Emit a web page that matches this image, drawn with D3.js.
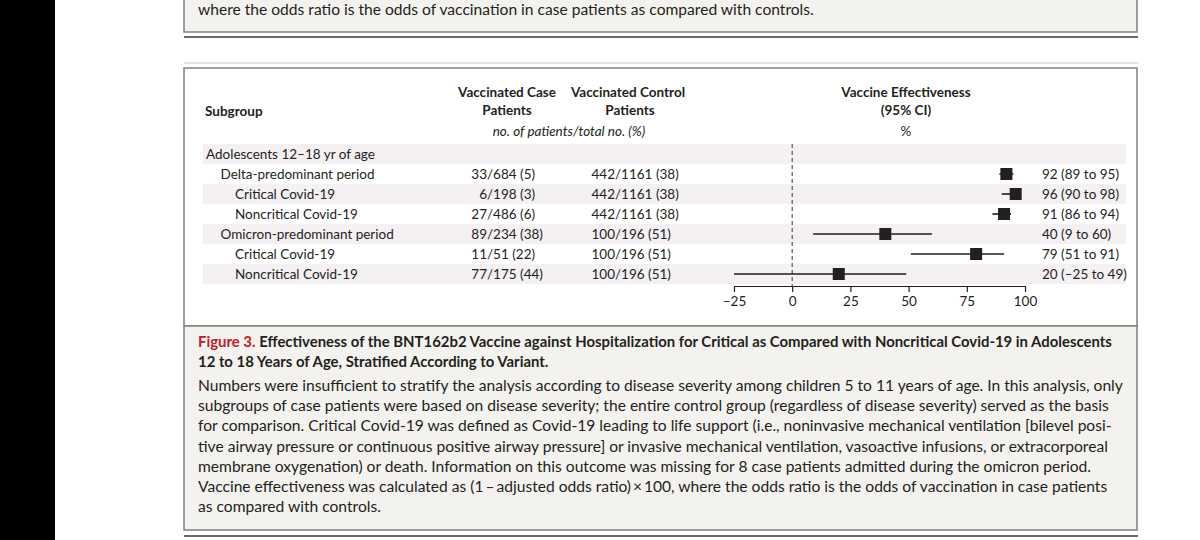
<!DOCTYPE html>
<html>
<head>
<meta charset="utf-8">
<script src="https://cdn.jsdelivr.net/npm/d3@7"></script>
<style>
  body { margin: 0; background: #fff; }
  svg { display: block; font-family: Lato, "Open Sans", sans-serif; }
</style>
</head>
<body>
<div class="canvas"></div>
<script>
// table data
const subgroups = [
  'Adolescents 12–18 yr of age',
  'Delta-predominant period',
  'Critical Covid-19',
  'Noncritical Covid-19',
  'Omicron-predominant period',
  'Critical Covid-19',
  'Noncritical Covid-19'
];
const levels = [0, 1, 2, 2, 1, 2, 2];
const caseVacc = [null, 33, 6, 27, 89, 11, 77];
const caseTotal = [null, 684, 198, 486, 234, 51, 175];
const casePct = [null, 5, 3, 6, 38, 22, 44];
const ctrlVacc = [null, 442, 442, 442, 100, 100, 100];
const ctrlTotal = [null, 1161, 1161, 1161, 196, 196, 196];
const ctrlPct = [null, 38, 38, 38, 51, 51, 51];
const ve = [null, 92, 96, 91, 40, 79, 20];
const veLow = [null, 89, 90, 86, 9, 51, -25];
const veHigh = [null, 95, 98, 94, 60, 91, 49];
const ticks = [-25, 0, 25, 50, 75, 100];

const topText = 'where the odds ratio is the odds of vaccination in case patients as compared with controls.';
const figLabel = 'Figure 3.';
const titleLines = [
  ' Effectiveness of the BNT162b2 Vaccine against Hospitalization for Critical as Compared with Noncritical Covid-19 in Adolescents',
  '12 to 18 Years of Age, Stratified According to Variant.'
];
const bodyLines = [
  'Numbers were insufficient to stratify the analysis according to disease severity among children 5 to 11 years of age. In this analysis, only',
  'subgroups of case patients were based on disease severity; the entire control group (regardless of disease severity) served as the basis',
  'for comparison. Critical Covid-19 was defined as Covid-19 leading to life support (i.e., noninvasive mechanical ventilation [bilevel posi-',
  'tive airway pressure or continuous positive airway pressure] or invasive mechanical ventilation, vasoactive infusions, or extracorporeal',
  'membrane oxygenation) or death. Information on this outcome was missing for 8 case patients admitted during the omicron period.',
  'Vaccine effectiveness was calculated as (1\u2009–\u2009adjusted odds ratio)\u2009×\u2009100, where the odds ratio is the odds of vaccination in case patients',
  'as compared with controls.'
];

const dims = { width: 1200, height: 540 };
const ink = '#231f20';
const boxFill = '#f4f2ee';
const boxStroke = '#808080';
const neg = v => (v < 0 ? '–' + Math.abs(v) : String(v));

const svg = d3
  .select('.canvas')
  .append('svg')
  .attr('width', dims.width)
  .attr('height', dims.height);

// black band at the left
svg.append('rect').attr('x', 0).attr('y', 0).attr('width', 55).attr('height', dims.height).attr('fill', '#000');

// tail of the previous figure caption
svg.append('rect')
  .attr('x', 184).attr('y', -3).attr('width', 953).attr('height', 35)
  .attr('fill', boxFill).attr('stroke', boxStroke).attr('stroke-width', 1.5);
svg.append('text')
  .attr('x', 198).attr('y', 15)
  .attr('font-size', 15.6).attr('fill', ink)
  .text(topText);

// rules between figures
svg.append('line').attr('x1', 184).attr('x2', 1138).attr('y1', 37).attr('y2', 37)
  .attr('stroke', '#6a6a6a').attr('stroke-width', 2);
svg.append('line').attr('x1', 184).attr('x2', 1138).attr('y1', 63).attr('y2', 63)
  .attr('stroke', '#c4c4c4').attr('stroke-width', 1);

// figure box
svg.append('rect')
  .attr('x', 184).attr('y', 68).attr('width', 953).attr('height', 258)
  .attr('fill', '#fff').attr('stroke', boxStroke).attr('stroke-width', 1.5);

// caption box
svg.append('rect')
  .attr('x', 184).attr('y', 326).attr('width', 953).attr('height', 204)
  .attr('fill', boxFill).attr('stroke', boxStroke).attr('stroke-width', 1.5);
svg.append('line').attr('x1', 184).attr('x2', 1138).attr('y1', 536).attr('y2', 536)
  .attr('stroke', '#6a6a6a').attr('stroke-width', 2);

// scales
const rowIdx = d3.range(subgroups.length);
const y = d3.scaleBand().domain(rowIdx).range([144, 284]);
const x = d3.scaleLinear().domain([-25, 100]).range([734, 1025]);

// shaded rows
svg.append('g')
  .selectAll('rect')
  .data(rowIdx.filter(i => i % 2 === 0))
  .enter()
  .append('rect')
  .attr('x', 203)
  .attr('y', i => y(i))
  .attr('width', 923)
  .attr('height', y.bandwidth())
  .attr('fill', '#f4f0f3');

// headers
const head = svg.append('g').attr('fill', ink).attr('font-size', 13.5);
const boldHead = (txt, cx, cy, anchor) =>
  head.append('text').attr('x', cx).attr('y', cy).attr('text-anchor', anchor || 'middle')
    .attr('font-weight', 'bold').text(txt);
boldHead('Subgroup', 205, 116, 'start');
boldHead('Vaccinated Case', 507, 97);
boldHead('Patients', 507, 115);
boldHead('Vaccinated Control', 628, 97);
boldHead('Patients', 630, 115);
boldHead('Vaccine Effectiveness', 906, 97);
boldHead('(95% CI)', 906, 115);
head.append('text').attr('x', 569).attr('y', 136).attr('text-anchor', 'middle')
  .attr('font-style', 'italic').text('no. of patients/total no. (%)');
head.append('text').attr('x', 906).attr('y', 136).attr('text-anchor', 'middle').text('%');

// table body
const body = svg.append('g').attr('fill', ink).attr('font-size', 13.5);
const rowY = i => y(i) + y.bandwidth() / 2 + 5;

body.selectAll('.label')
  .data(rowIdx)
  .enter()
  .append('text')
  .attr('class', 'label')
  .attr('x', i => 206 + levels[i] * 14.5)
  .attr('y', rowY)
  .text(i => subgroups[i]);

const dataRows = rowIdx.filter(i => ve[i] !== null);

// numerators right-aligned on the slash
const numCol = (slashX, num, rest) => {
  body.selectAll(null).data(dataRows).enter().append('text')
    .attr('x', slashX).attr('y', rowY).attr('text-anchor', 'end')
    .text(i => num[i]);
  body.selectAll(null).data(dataRows).enter().append('text')
    .attr('x', slashX).attr('y', rowY)
    .text(rest);
};
numCol(487, caseVacc, i => `/${caseTotal[i]} (${casePct[i]})`);
numCol(615, ctrlVacc, i => `/${ctrlTotal[i]} (${ctrlPct[i]})`);

// estimate labels
body.selectAll('.est')
  .data(dataRows)
  .enter()
  .append('text')
  .attr('class', 'est')
  .attr('x', 1042)
  .attr('y', rowY)
  .text(i => `${ve[i]} (${neg(veLow[i])} to ${veHigh[i]})`);

// reference line at zero
svg.append('line')
  .attr('x1', x(0)).attr('x2', x(0))
  .attr('y1', 144).attr('y2', 286)
  .attr('stroke', '#555').attr('stroke-width', 1.2)
  .attr('stroke-dasharray', '4,3');

// confidence intervals
const plot = svg.append('g');
plot.selectAll('line')
  .data(dataRows)
  .enter()
  .append('line')
  .attr('x1', i => x(veLow[i]))
  .attr('x2', i => x(veHigh[i]))
  .attr('y1', i => y(i) + y.bandwidth() / 2)
  .attr('y2', i => y(i) + y.bandwidth() / 2)
  .attr('stroke', ink)
  .attr('stroke-width', 1.6);

// point estimates
const sq = 12;
plot.selectAll('rect')
  .data(dataRows)
  .enter()
  .append('rect')
  .attr('x', i => x(ve[i]) - sq / 2)
  .attr('y', i => y(i) + y.bandwidth() / 2 - sq / 2)
  .attr('width', sq)
  .attr('height', sq)
  .attr('fill', ink);

// x axis
const axis = svg.append('g')
  .attr('transform', 'translate(0, 286)')
  .call(d3.axisBottom(x).tickValues(ticks).tickSize(6).tickSizeOuter(0).tickFormat(neg));
axis.selectAll('path, line').attr('stroke', ink).attr('stroke-width', 1.2);
axis.selectAll('text')
  .attr('fill', ink)
  .attr('font-size', 13.5)
  .attr('font-family', 'Lato, sans-serif')
  .attr('dy', '0.85em');

// caption
const cap = svg.append('g').attr('fill', ink).attr('font-size', 15.6);
const t1 = cap.append('text').attr('x', 198).attr('y', 347).attr('font-weight', 'bold').attr('font-size', 14.9);
t1.append('tspan').attr('fill', '#c0202a').text(figLabel);
t1.append('tspan').text(titleLines[0]);
cap.append('text').attr('x', 198).attr('y', 367).attr('font-weight', 'bold').attr('font-size', 14.9).text(titleLines[1]);

cap.selectAll('.body')
  .data(bodyLines)
  .enter()
  .append('text')
  .attr('class', 'body')
  .attr('x', 198)
  .attr('y', (d, i) => 391 + i * 20.2)
  .text(d => d);
</script>
</body>
</html>
